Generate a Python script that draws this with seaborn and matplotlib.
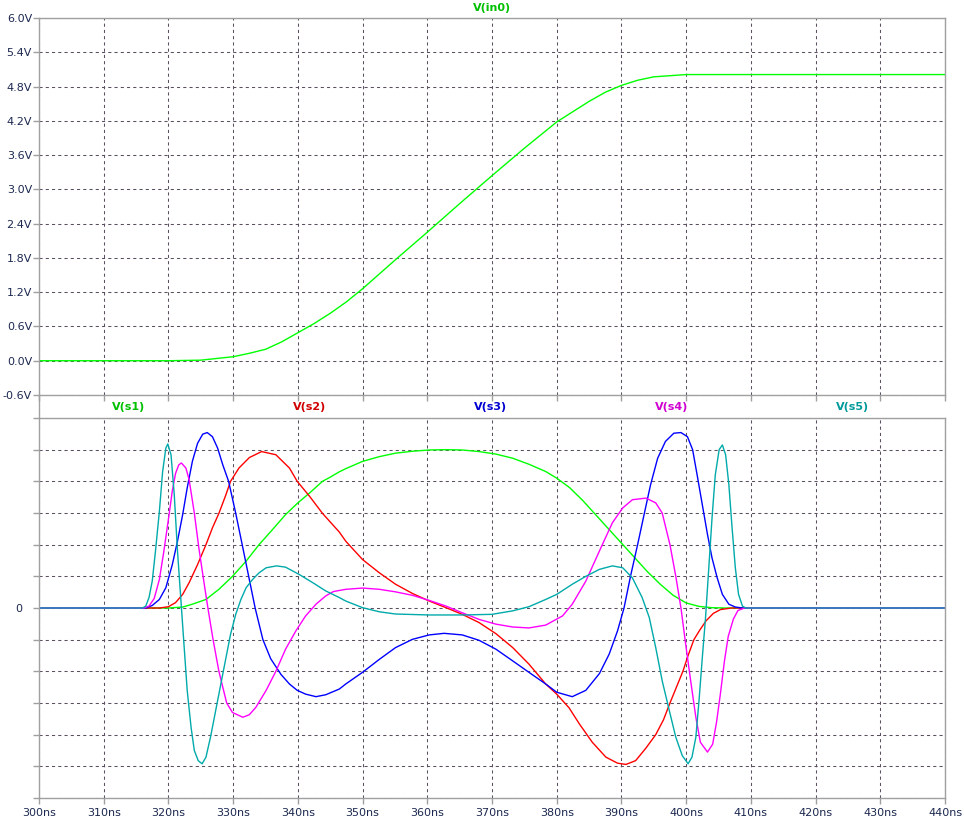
import numpy as np
import pandas as pd
import matplotlib
matplotlib.use("Agg")
import matplotlib.pyplot as plt
from matplotlib.lines import Line2D
import seaborn as sns

# ---------------- data ----------------
t_in0 = [300, 320, 325, 327.5, 330, 332.5, 335, 337.5, 340, 342.5, 345, 347.5, 350, 352.5, 355, 360, 365,
         370, 375, 380, 382.5, 385, 387.5, 390, 392.5, 395, 397.5, 400, 410, 440]
v_in0 = [0.0, 0.0, 0.01, 0.04, 0.07, 0.13, 0.20, 0.33, 0.49, 0.65, 0.83, 1.03, 1.26, 1.51, 1.76, 2.25, 2.75,
         3.24, 3.72, 4.18, 4.36, 4.54, 4.70, 4.82, 4.91, 4.97, 4.99, 5.01, 5.01, 5.01]

t_s1 = [300, 320.0, 322.2, 323.7, 325.8, 327.8, 329.9, 332.0, 334.0, 336.1, 338.1, 340.0, 341.8, 343.8,
        344.9, 346.4, 347.4, 350.0, 352.6, 355.1, 357.7, 360.3, 362.9, 365.4, 368.0, 370.6, 373.2,
        375.7, 378.3, 380.0, 382.0, 384.0, 386.0, 388.0, 390.0, 392.0, 394.0, 396.0, 398.0, 400.0,
        402.0, 404.0, 406.0, 440]
v_s1 = [0, 0, 0.03, 0.12, 0.27, 0.59, 1.0, 1.48, 2.0, 2.48, 2.95, 3.32, 3.63, 4.0,
        4.12, 4.3, 4.4, 4.63, 4.78, 4.89, 4.95, 4.99, 5.0, 4.99, 4.94, 4.86, 4.73,
        4.54, 4.31, 4.1, 3.8, 3.4, 2.95, 2.5, 2.05, 1.6, 1.15, 0.75, 0.4, 0.16,
        0.05, 0.01, 0, 0]

t_s2 = [300, 318.6, 320.0, 321.1, 322.2, 323.2, 324.5, 325.8, 326.8, 327.8, 328.8, 329.6, 330.9, 332.5,
        334.4, 336.6, 338.7, 339.9, 341.8, 343.8, 344.9, 346.4, 347.4, 350.0, 352.6, 355.1, 357.7,
        360.3, 362.9, 365.4, 368.0, 370.6, 373.2, 375.7, 378.3, 380.0, 381.9, 383.5, 385.5, 387.6,
        389.4, 390.7, 392.2, 393.8, 395.3, 396.5, 397.5, 398.5, 399.5, 400.3, 401.2, 402.1, 403.1,
        404.2, 405.3, 407.0, 440]
v_s2 = [0, 0, 0.04, 0.17, 0.43, 0.8, 1.37, 2.0, 2.53, 2.99, 3.53, 4.0, 4.42, 4.75,
        4.94, 4.84, 4.42, 4.0, 3.53, 2.99, 2.74, 2.4, 2.11, 1.53, 1.11, 0.75, 0.46,
        0.22, 0.01, -0.2, -0.46, -0.81, -1.25, -1.77, -2.4, -2.72, -3.15, -3.66, -4.24, -4.71,
        -4.9, -4.94, -4.82, -4.42, -4.0, -3.53, -3.0, -2.5, -2.0, -1.5, -1.0, -0.7, -0.4,
        -0.17, -0.05, 0, 0]

t_s3 = [300, 316.5, 317.5, 318.6, 319.6, 320.6, 321.4, 322.2, 322.9, 323.7, 324.5, 325.3, 326.0, 326.8,
        327.6, 328.4, 329.3, 330.4, 331.4, 332.4, 333.4, 334.6, 335.8, 337.4, 338.7, 339.9, 341.2,
        342.8, 344.3, 346.4, 347.4, 350.0, 352.6, 355.1, 357.7, 360.3, 362.6, 365.4, 368.0, 370.6,
        373.2, 375.7, 378.3, 380.0, 382.4, 384.5, 386.6, 388.1, 389.4, 390.4, 391.4, 392.5, 393.5,
        394.5, 395.6, 396.8, 398.1, 399.2, 400.2, 401.0, 401.7, 402.5, 403.3, 404.0, 404.8, 405.6,
        406.6, 407.6, 408.7, 440]
v_s3 = [0, 0, 0.08, 0.27, 0.64, 1.37, 2.11, 2.95, 3.79, 4.63, 5.2, 5.49, 5.54, 5.41,
        5.05, 4.52, 4.0, 2.99, 2.0, 1.0, 0.0, -1.0, -1.6, -2.1, -2.4, -2.6, -2.72,
        -2.8, -2.74, -2.56, -2.4, -2.03, -1.62, -1.25, -0.99, -0.85, -0.8, -0.85, -1.02, -1.3,
        -1.67, -2.03, -2.4, -2.66, -2.8, -2.6, -2.07, -1.46, -0.72, 0.0, 1.0, 2.0, 2.95,
        3.89, 4.73, 5.26, 5.52, 5.54, 5.41, 5.0, 4.2, 3.26, 2.32, 1.58, 0.95, 0.43,
        0.12, 0.03, 0, 0]

t_s4 = [300, 316.2, 317.0, 317.8, 318.6, 319.3, 320.1, 320.6, 321.1, 321.6, 322.0, 322.7, 323.2, 324.0,
        324.7, 325.5, 326.1, 326.9, 327.8, 329.0, 329.9, 331.5, 332.5, 333.5, 335.1, 336.6, 338.1,
        339.7, 341.2, 342.8, 344.3, 345.5, 347.4, 350.0, 352.6, 355.1, 357.7, 360.3, 362.9, 365.4,
        368.0, 370.6, 373.2, 375.7, 378.3, 380.9, 382.4, 384.5, 386.6, 388.6, 390.2, 391.7, 393.8,
        395.3, 396.3, 397.5, 398.4, 399.2, 399.9, 400.7, 401.5, 402.2, 403.3, 404.1, 404.7, 405.3,
        405.9, 406.5, 407.3, 408.0, 409.0, 440]
v_s4 = [0, 0, 0.06, 0.3, 0.9, 1.8, 2.95, 3.7, 4.25, 4.52, 4.58, 4.42, 4.05, 3.0,
        1.9, 0.8, 0.0, -1.0, -2.0, -3.0, -3.3, -3.45, -3.37, -3.14, -2.6, -2.0, -1.3,
        -0.72, -0.25, 0.12, 0.38, 0.52, 0.59, 0.63, 0.59, 0.51, 0.4, 0.24, 0.06, -0.15,
        -0.36, -0.51, -0.6, -0.63, -0.54, -0.25, 0.12, 0.85, 1.8, 2.69, 3.16, 3.42, 3.47,
        3.32, 3.0, 2.0, 1.0, 0.0, -1.1, -2.3, -3.45, -4.24, -4.55, -4.3, -3.6, -2.7,
        -1.7, -0.9, -0.35, -0.08, 0, 0]

t_s5 = [300, 316.0, 316.5, 317.0, 317.5, 318.0, 318.6, 319.1, 319.6, 319.9, 320.4, 320.9, 321.4, 321.9,
        322.4, 322.9, 323.5, 324.0, 324.6, 325.2, 325.8, 326.5, 327.3, 328.1, 328.9, 329.6, 330.4,
        331.2, 332.0, 333.0, 334.0, 335.1, 336.7, 338.1, 340.2, 342.3, 344.3, 346.4, 347.4, 350.0,
        352.6, 355.1, 360.3, 365.4, 370.0, 373.2, 375.7, 378.3, 380.0, 382.4, 384.5, 386.6, 388.6,
        390.2, 391.7, 393.2, 394.3, 395.3, 396.3, 397.4, 398.4, 399.4, 400.3, 400.9, 401.5, 402.0,
        402.5, 403.0, 403.5, 404.0, 404.5, 405.1, 405.6, 406.1, 406.6, 407.1, 407.6, 408.1, 408.7,
        409.2, 440]
v_s5 = [0, 0, 0.06, 0.33, 0.85, 1.8, 3.05, 4.3, 5.05, 5.18, 4.84, 3.58, 1.8, 0.33,
        -1.14, -2.6, -3.77, -4.5, -4.82, -4.92, -4.71, -4.08, -3.24, -2.4, -1.56, -0.83, -0.2,
        0.27, 0.64, 0.9, 1.11, 1.27, 1.33, 1.29, 1.06, 0.8, 0.54, 0.33, 0.22, 0.01,
        -0.12, -0.19, -0.22, -0.22, -0.2, -0.09, 0.04, 0.27, 0.43, 0.75, 1.0, 1.22, 1.33,
        1.27, 0.95, 0.33, -0.3, -1.25, -2.3, -3.24, -4.08, -4.66, -4.92, -4.71, -4.08, -2.9,
        -1.56, -0.3, 1.27, 2.84, 4.2, 5.0, 5.15, 4.84, 3.9, 2.53, 1.27, 0.43, 0.06,
        0, 0]

top_ticks = [-0.6, 0.0, 0.6, 1.2, 1.8, 2.4, 3.0, 3.6, 4.2, 4.8, 5.4, 6.0]
x_ticks = [300, 310, 320, 330, 340, 350, 360, 370, 380, 390, 400, 410, 420, 430, 440]
x_labels = [f"{v}ns" for v in x_ticks]

series = [("V(s1)", t_s1, v_s1, "#00ff00", "#00c000"),
          ("V(s2)", t_s2, v_s2, "#ff0000", "#d00000"),
          ("V(s3)", t_s3, v_s3, "#0000ff", "#0000d0"),
          ("V(s4)", t_s4, v_s4, "#ff00ff", "#d000d0"),
          ("V(s5)", t_s5, v_s5, "#00aaaa", "#009a9a")]

# ---------------- figure ----------------
sns.set_style("white")
plt.rcParams["font.family"] = ["DejaVu Sans"]

W, H = 964, 825
fig = plt.figure(figsize=(W / 100, H / 100), dpi=100)
fig.patch.set_facecolor("white")
ax1 = fig.add_axes([39 / W, 1 - 395 / H, 906 / W, 377 / H])
ax2 = fig.add_axes([39 / W, 1 - 798 / H, 906 / W, 380 / H])

grid_kw = dict(color="#5a5060", linestyle=(0, (3, 3)), linewidth=0.75)
label_col = "#1c2850"

# top panel
df_in = pd.DataFrame({"t": t_in0, "v": v_in0})
sns.lineplot(data=df_in, x="t", y="v", ax=ax1, color="#00ff00", linewidth=1.0,
             estimator=None, sort=False)
ax1.set_xlim(300, 440)
ax1.set_ylim(-0.6, 6.0)
ax1.set_yticks(top_ticks)
ax1.set_yticklabels([f"{v:.1f}V" for v in top_ticks])
ax1.set_xticks(x_ticks)
ax1.set_xticklabels([])

# bottom panel
for name, t, v, col, _ in series:
    df = pd.DataFrame({"t": t, "v": v})
    sns.lineplot(data=df, x="t", y="v", ax=ax2, color=col, linewidth=1.0,
                 estimator=None, sort=False)
ax2.set_xlim(300, 440)
ax2.set_ylim(-6, 6)
ax2.set_yticks(range(-6, 7))
ax2.set_yticklabels(["" if k != 0 else "0" for k in range(-6, 7)])
ax2.set_xticks(x_ticks)
ax2.set_xticklabels(x_labels)

for ax in (ax1, ax2):
    ax.set_xlabel("")
    ax.set_ylabel("")
    ax.grid(True, **grid_kw)
    ax.set_axisbelow(True)
    for s in ax.spines.values():
        s.set_color("#a0a0a0")
        s.set_linewidth(1.0)
    ax.tick_params(axis="both", direction="out", length=4, width=1.0, color="#a0a0a0",
                   labelsize=8, labelcolor=label_col, pad=1)
    ax.tick_params(axis="x", top=False, bottom=True)
    ax.tick_params(axis="y", left=True, right=False)

ax2.tick_params(axis="x", pad=3)
ax2.tick_params(axis="y", pad=8)

# left axis line continues through the gap between panels
fig.add_artist(Line2D([39 / W, 39 / W], [1 - 395 / H, 1 - 418 / H],
                      transform=fig.transFigure, color="#a0a0a0", linewidth=1.0))

# titles
fig.text(492 / W, 1 - 8 / H, "V(in0)", color="#00c000", fontsize=8, fontweight="bold",
         ha="center", va="center")
for (name, _, _, _, tcol), xc in zip(series, [129, 310, 491, 672, 853]):
    fig.text(xc / W, 1 - 407 / H, name, color=tcol, fontsize=8, fontweight="bold",
             ha="center", va="center")

fig.savefig("out.png", dpi=100)
